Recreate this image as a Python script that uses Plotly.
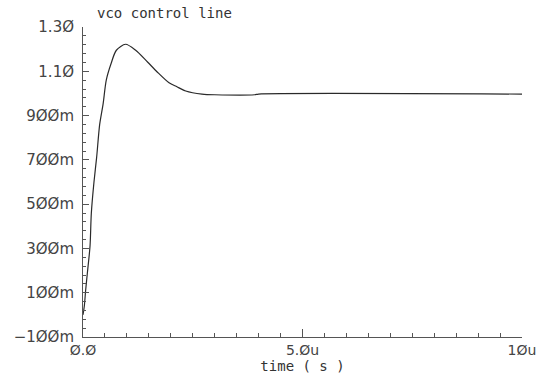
import plotly.graph_objects as go

# time in microseconds, voltage in volts
time_us = [0.0, 0.03, 0.06, 0.10, 0.16, 0.19, 0.25, 0.31, 0.38, 0.46, 0.53, 0.64,
           0.76, 0.97, 1.20, 1.47, 1.69, 1.96, 2.14, 2.34, 2.71, 3.0, 3.91, 4.0, 10.0]
vco = [0.0, 0.04, 0.11, 0.19, 0.31, 0.46, 0.60, 0.71, 0.86, 0.955, 1.06, 1.135,
       1.195, 1.222, 1.195, 1.142, 1.097, 1.048, 1.03, 1.011, 0.997, 0.994, 0.994, 0.997, 0.997]

x_labels = {"0": "Ø.Ø", "5": "5.Øu", "10": "1Øu"}
y_labels = {"−0.1": "−1ØØm", "-0.1": "−1ØØm", "0.1": "1ØØm", "0.3": "3ØØm", "0.5": "5ØØm",
            "0.7": "7ØØm", "0.9": "9ØØm", "1.1": "1.1Ø", "1.3": "1.3Ø"}

fig = go.Figure()
fig.add_trace(go.Scatter(x=time_us, y=vco, mode="lines",
                         line=dict(color="#2a2a2a", width=1.2, shape="spline", smoothing=0.8),
                         showlegend=False))
# invisible copy on the overlay axes that carry the minor ticks
fig.add_trace(go.Scatter(x=time_us, y=vco, mode="lines", xaxis="x2", yaxis="y2",
                         line=dict(color="rgba(0,0,0,0)", width=0), hoverinfo="skip",
                         showlegend=False))

axis_col = "#555555"
fig.update_layout(
    width=548, height=383,
    margin=dict(l=83, r=20, t=27, b=46),
    paper_bgcolor="white", plot_bgcolor="white",
    font=dict(family="DejaVu Sans", size=15, color="#333333"),
    title=dict(text="vco control line", xref="container", yref="container",
               x=97/548, xanchor="left", y=1-13/383, yanchor="middle",
               font=dict(family="DejaVu Sans Mono", size=14, color="#333333")),
    xaxis2=dict(overlaying="x", anchor="y", side="bottom", range=[0, 10],
                showgrid=False, zeroline=False, showline=False, showticklabels=False,
                tickmode="linear", tick0=0, dtick=0.5,
                ticks="inside", ticklen=4, tickcolor=axis_col, tickwidth=1.3),
    yaxis2=dict(overlaying="y", anchor="x", side="left", range=[-0.1, 1.3],
                showgrid=False, zeroline=False, showline=False, showticklabels=False,
                tickmode="linear", tick0=-0.1, dtick=0.04,
                ticks="inside", ticklen=3, tickcolor=axis_col, tickwidth=1.3),
)
fig.layout.xaxis.update(
    range=[0, 10], showgrid=False, zeroline=False,
    showline=True, linecolor=axis_col, linewidth=1,
    tickmode="linear", tick0=0, dtick=5, tickformat="d", labelalias=x_labels,
    ticks="inside", ticklen=8, tickcolor=axis_col, tickwidth=1.3,
    tickfont=dict(family="DejaVu Sans", size=14, color="#444444"),
    title=dict(text="time ( s )", standoff=2,
               font=dict(family="DejaVu Sans Mono", size=14, color="#333333")),
)
fig.layout.yaxis.update(
    range=[-0.1, 1.3], showgrid=False, zeroline=False,
    showline=True, linecolor=axis_col, linewidth=1,
    tickmode="linear", tick0=-0.1, dtick=0.2, tickformat=".1f", labelalias=y_labels,
    ticks="inside", ticklen=6, tickcolor=axis_col, tickwidth=1.3,
    tickfont=dict(family="DejaVu Sans", size=15, color="#444444"),
    ticklabelstandoff=5,
)

fig.write_html("out.html")
